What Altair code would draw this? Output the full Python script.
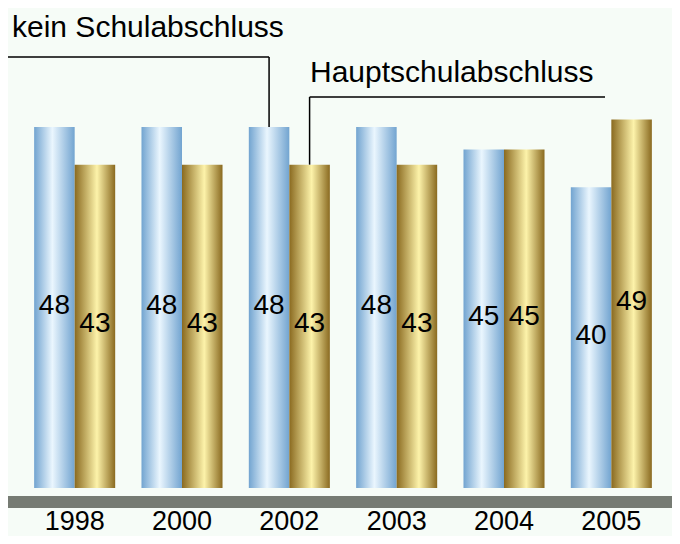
import altair as alt
import pandas as pd

years = ["1998", "2000", "2002", "2003", "2004", "2005"]
kein = [48, 48, 48, 48, 45, 40]
haupt = [43, 43, 43, 43, 45, 49]
series_names = ["kein Schulabschluss", "Hauptschulabschluss"]

rows = []
for yr, k, h in zip(years, kein, haupt):
    rows.append({"year": yr, "series": series_names[0], "value": k})
    rows.append({"year": yr, "series": series_names[1], "value": h})
df = pd.DataFrame(rows)

BG = "#f6fcf7"
FONT = "Liberation Sans"

blue_grad = alt.Gradient(
    gradient="linear", x1=0, x2=1, y1=0, y2=0,
    stops=[
        alt.GradientStop(offset=0, color="#72a4d0"),
        alt.GradientStop(offset=0.45, color="#eaf6fe"),
        alt.GradientStop(offset=1, color="#72a4d0"),
    ],
)
gold_grad = alt.Gradient(
    gradient="linear", x1=0, x2=1, y1=0, y2=0,
    stops=[
        alt.GradientStop(offset=0, color="#8a6a20"),
        alt.GradientStop(offset=0.55, color="#fdf3aa"),
        alt.GradientStop(offset=1, color="#8a6a20"),
    ],
)

x_enc = alt.X(
    "year:N", sort=years,
    scale=alt.Scale(paddingInner=0.245, paddingOuter=0.1225),
    axis=alt.Axis(title=None, domain=False, ticks=False, grid=False, labelAngle=0,
                  labelFontSize=27, labelFont=FONT, labelColor="black", labelPadding=20),
)
xo = alt.XOffset("series:N", sort=series_names,
                 scale=alt.Scale(domain=series_names, paddingInner=0, paddingOuter=0))
yscale = alt.Scale(domain=[0, 63.83], nice=False, zero=True)

base = alt.Chart(df)

floor = alt.Chart(pd.DataFrame({"a": [0]})).mark_rect(color="#767b73").encode(
    x=alt.value(-13), x2=alt.value(651), y=alt.value(488), y2=alt.value(500)
)

bars_k = base.transform_filter(alt.datum.series == series_names[0]).mark_bar(
    color=blue_grad
).encode(x=x_enc, xOffset=xo, y=alt.Y("value:Q", scale=yscale, axis=None))

bars_h = base.transform_filter(alt.datum.series == series_names[1]).mark_bar(
    color=gold_grad
).encode(x=x_enc, xOffset=xo, y=alt.Y("value:Q", scale=yscale, axis=None))

labels = base.transform_calculate(mid="datum.value / 2").mark_text(
    fontSize=28, font=FONT, baseline="middle", color="black", dy=-2
).encode(x=x_enc, xOffset=xo, y=alt.Y("mid:Q", scale=yscale, axis=None), text="value:Q")

sel_k = (alt.datum.year == "2002") & (alt.datum.series == series_names[0])
sel_h = (alt.datum.year == "2002") & (alt.datum.series == series_names[1])

v1 = base.transform_filter(sel_k).mark_rule(color="black", strokeWidth=1.5).encode(
    x=x_enc, xOffset=xo, y=alt.Y("value:Q", scale=yscale, axis=None), y2=alt.value(49)
)
h1 = base.transform_filter(sel_k).mark_rule(color="black", strokeWidth=1.5).encode(
    x=x_enc, xOffset=xo, x2=alt.value(-13), y=alt.value(49)
)
v2 = base.transform_filter(sel_h).mark_rule(color="black", strokeWidth=1.5).encode(
    x=x_enc, xOffset=xo, y=alt.Y("value:Q", scale=yscale, axis=None), y2=alt.value(89)
)
h2 = base.transform_filter(sel_h).mark_rule(color="black", strokeWidth=1.5).encode(
    x=x_enc, xOffset=xo, x2=alt.value(584), y=alt.value(89)
)

t1 = alt.Chart(pd.DataFrame({"t": [series_names[0]]})).mark_text(
    align="left", baseline="alphabetic", fontSize=30, font=FONT, color="black"
).encode(x=alt.value(-9), y=alt.value(29), text="t:N")
t2 = alt.Chart(pd.DataFrame({"t": [series_names[1]]})).mark_text(
    align="left", baseline="alphabetic", fontSize=30, font=FONT, color="black"
).encode(x=alt.value(289), y=alt.value(73.5), text="t:N")

chart = alt.layer(floor, bars_k, bars_h, labels, v1, h1, v2, h2, t1, t2).properties(
    width=644, height=480,
    padding={"left": 13, "right": 7, "top": 0, "bottom": 48},
    autosize="none",
    background=BG,
).configure_view(stroke=None)

chart.save("out.html", embed_options={"renderer": "svg", "actions": False})
